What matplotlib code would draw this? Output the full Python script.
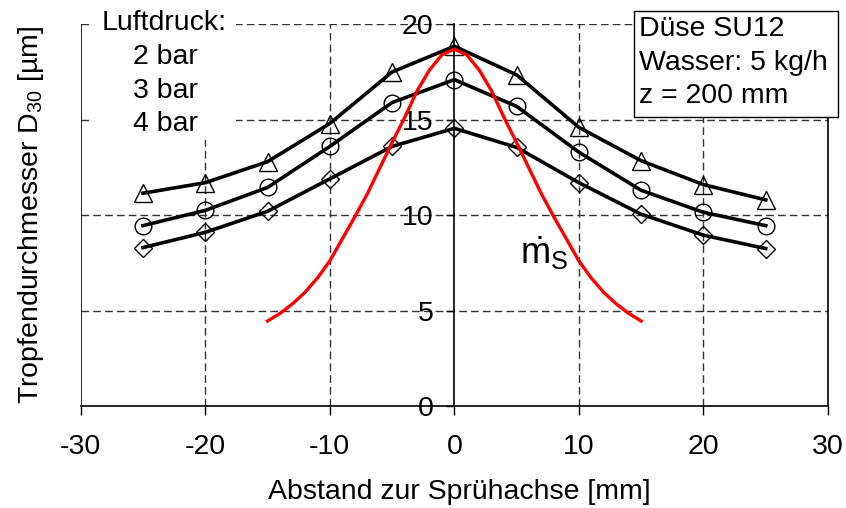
import matplotlib
matplotlib.use("Agg")
import matplotlib.pyplot as plt
from matplotlib.patches import Rectangle

plt.rcParams["font.family"] = ["Liberation Sans", "DejaVu Sans"]
plt.rcParams["mathtext.fontset"] = "custom"
plt.rcParams["mathtext.rm"] = "Liberation Sans"
plt.rcParams["mathtext.it"] = "Liberation Sans"

# Messpunkte: Abstand zur Sprühachse [mm]
x_pos = [-25, -20, -15, -10, -5, 0, 5, 10, 15, 20, 25]
d30_2bar = [11.15, 11.7, 12.8, 14.8, 17.5, 18.85, 17.35, 14.6, 12.85, 11.6, 10.8]
d30_3bar = [9.45, 10.25, 11.45, 13.6, 15.9, 17.1, 15.7, 13.3, 11.3, 10.15, 9.45]
d30_4bar = [8.3, 9.1, 10.2, 11.9, 13.6, 14.55, 13.55, 11.7, 10.05, 8.95, 8.25]

# Massenstromverteilung (rote Kurve)
x_ms = [-15, -14, -13, -12, -11, -10, -9, -8, -7, -6, -5, -4, -3, -2, -1, 0,
        1, 2, 3, 4, 5, 6, 7, 8, 9, 10, 11, 12, 13, 14, 15]
ms = [4.45, 4.85, 5.35, 5.95, 6.7, 7.6, 8.75, 9.9, 11.1, 12.45, 13.8, 15.1, 16.5, 17.6, 18.4, 18.7,
      18.4, 17.6, 16.5, 15.1, 13.8, 12.45, 11.1, 9.9, 8.75, 7.6, 6.7, 5.95, 5.35, 4.85, 4.45]

x_ticks = [-30, -20, -10, 0, 10, 20, 30]
y_ticks = [0, 5, 10, 15, 20]
pressures = ["2 bar", "3 bar", "4 bar"]
info_lines = ["Düse SU12", "Wasser: 5 kg/h", "z = 200 mm"]

FS = 20.5
W, H = 846, 508
AX_L, AX_R, AX_T, AX_B = 80.7, 828.0, 24.3, 406.0


def ax_x(px):
    return (px - AX_L) / (AX_R - AX_L)


def ax_y(py):
    return (AX_B - py) / (AX_B - AX_T)


fig = plt.figure(figsize=(W / 100, H / 100), dpi=100)
ax = fig.add_axes([AX_L / W, 1 - AX_B / H, (AX_R - AX_L) / W, (AX_B - AX_T) / H])
ax.set_xlim(-30, 30)
ax.set_ylim(0, 20)

# Gitter
grid_kw = dict(color="#333333", lw=1.0, ls=(0, (5.5, 3)), zorder=1)
for gx in [-20, -10, 10, 20]:
    ax.axvline(gx, **grid_kw)
for gy in [5, 10, 15, 20]:
    ax.axhline(gy, **grid_kw)

# Rahmen
ax.spines["top"].set_visible(False)
ax.spines["left"].set_position(("data", 0))
for s in ["left", "right", "bottom"]:
    ax.spines[s].set_linewidth(1.2)
ax.axvline(-30, color="black", lw=1.2, zorder=2)

ax.set_xticks(x_ticks)
ax.set_yticks(y_ticks)
ax.tick_params(axis="x", direction="out", length=6.5, width=1.0, pad=14, labelsize=FS)
ax.tick_params(axis="y", direction="out", length=6, width=1.0, pad=9, labelsize=FS)
ax.set_xticklabels([f"{t}" for t in x_ticks])
ax.set_yticklabels([f"{t}" for t in y_ticks])

ax.set_xlabel("Abstand zur Sprühachse [mm]", fontsize=FS)
ax.xaxis.set_label_coords(0.507, -0.19)
ax.set_ylabel(r"Tropfendurchmesser D$_{30}$ [µm]", fontsize=FS)
ax.yaxis.set_label_coords(-0.046, 0.5)

# Datenreihen
line_kw = dict(color="black", lw=2.6, markerfacecolor="none", markeredgecolor="black",
               markeredgewidth=1.0, zorder=4)
ax.plot(x_pos, d30_2bar, marker="^", ms=13, **line_kw)
ax.plot(x_pos, d30_3bar, marker="o", ms=12, **line_kw)
ax.plot(x_pos, d30_4bar, marker="D", ms=9, **line_kw)
ax.plot(x_ms, ms, color="#ff0000", lw=2.4, zorder=5, solid_joinstyle="round")

ax.text(5.3, 7.45, r"$\dot{\mathrm{m}}_\mathrm{S}$", fontsize=26, ha="left", va="baseline")

# Legendenfeld links
ax.add_patch(Rectangle((ax_x(93), ax_y(140)), ax_x(236) - ax_x(93), ax_y(8) - ax_y(140),
                       transform=ax.transAxes, facecolor="white", edgecolor="none",
                       clip_on=False, zorder=3))
ax.text(ax_x(102), ax_y(23), "Luftdruck:", transform=ax.transAxes,
        fontsize=FS, ha="left", va="center", zorder=6)
for i, p in enumerate(pressures):
    ax.text(ax_x(133), ax_y(57 + 33.5 * i), p, transform=ax.transAxes,
            fontsize=FS, ha="left", va="center", zorder=6)

# Infofeld rechts
ax.add_patch(Rectangle((ax_x(634), ax_y(117)), ax_x(838) - ax_x(634), ax_y(11) - ax_y(117),
                       transform=ax.transAxes, facecolor="white", edgecolor="black", lw=1.0,
                       clip_on=False, zorder=6))
for i, t in enumerate(info_lines):
    ax.text(ax_x(639), ax_y(29 + 33.5 * i), t, transform=ax.transAxes,
            fontsize=FS, ha="left", va="center", zorder=7)

fig.savefig("out.png", dpi=100, facecolor="white")
